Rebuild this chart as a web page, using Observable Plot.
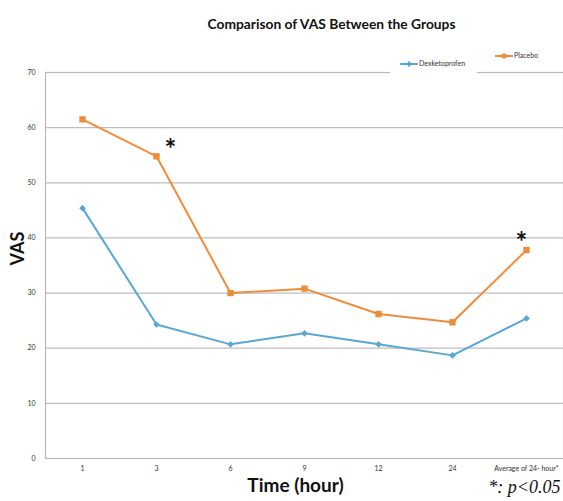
<!DOCTYPE html>
<html><head><meta charset="utf-8">
<script src="https://cdn.jsdelivr.net/npm/d3@7"></script>
<script src="https://cdn.jsdelivr.net/npm/@observablehq/plot@0.6"></script>
<style>
body{margin:0;background:#fff;}
#chart{position:relative;width:563px;height:501px;}
#chart svg{display:block;}
</style></head><body><div id="chart"></div>
<script>
const times = ["1", "3", "6", "9", "12", "24", "Average of 24- hour*"];
const dexketoprofen = [45.4, 24.3, 20.7, 22.7, 20.7, 18.7, 25.4];
const placebo = [61.5, 54.8, 30.0, 30.8, 26.2, 24.7, 37.8];
const seriesNames = ["Dexketoprofen", "Placebo"];
const seriesColors = ["#5aa7d6", "#ef8c3c"];
const yTicks = [0, 10, 20, 30, 40, 50, 60, 70];
const significant = ["3", "Average of 24- hour*"];
const titleText = "Comparison of VAS Between the Groups";
const xLabel = "Time (hour)";
const yLabel = "VAS";
const noteText = "*: p<0.05";

const rows = [];
times.forEach((t, i) => {
  rows.push({time: t, value: dexketoprofen[i], series: seriesNames[0]});
  rows.push({time: t, value: placebo[i], series: seriesNames[1]});
});
const placeboRows = rows.filter(d => d.series === "Placebo");
const dexRows = rows.filter(d => d.series === "Dexketoprofen");
const starRows = placeboRows.filter(d => significant.includes(d.time));

const sans = "Lato, 'Open Sans', sans-serif";

const chart = Plot.plot({
  width: 563,
  height: 501,
  marginTop: 72,
  marginBottom: 43,
  marginLeft: 45,
  marginRight: 0,
  style: {fontFamily: sans, fontSize: "7px", color: "#333", background: "#fff"},
  x: {type: "point", domain: times, padding: 0.5, label: null, tickSize: 0, tickPadding: 8},
  y: {domain: [0, 70], ticks: yTicks, label: null, tickSize: 0, tickPadding: 10},
  color: {domain: seriesNames, range: seriesColors},
  marks: [
    Plot.gridY(yTicks.filter(v => v > 0 && v < 70), {stroke: "#bdbdbd", strokeOpacity: 1, strokeWidth: 1.2}),
    Plot.frame({stroke: "#b8b8b8", strokeWidth: 1.2}),
    Plot.axisX({tickSize: 0, tickPadding: 8, fontSize: 7}),
    Plot.axisY({ticks: yTicks, tickSize: 0, tickPadding: 10, fontSize: 7}),
    Plot.line(dexRows, {x: "time", y: "value", stroke: "series", strokeWidth: 2}),
    Plot.line(placeboRows, {x: "time", y: "value", stroke: "series", strokeWidth: 2}),
    Plot.dot(dexRows, {x: "time", y: "value", fill: "series", symbol: "diamond2", r: 3}),
    Plot.dot(placeboRows, {x: "time", y: "value", fill: "series", symbol: "square", r: 3.6}),
    Plot.text(starRows.slice(0, 1), {x: "time", y: "value", text: () => "*", fontSize: 28, fontWeight: "bold", fill: "#111", dx: 14, dy: -6}),
    Plot.text(starRows.slice(1), {x: "time", y: "value", text: () => "*", fontSize: 28, fontWeight: "bold", fill: "#111", dx: -5, dy: -7}),
    Plot.text([titleText], {frameAnchor: "top", dx: 27, dy: -53, fontSize: 13.8, fontWeight: "bold", fill: "#111"}),
    Plot.text([yLabel], {frameAnchor: "left", dx: -27, rotate: -90, fontSize: 18, fontWeight: "bold", fill: "#111"}),
    Plot.text([xLabel], {frameAnchor: "bottom", dx: -9, dy: 33, fontSize: 19, fontWeight: "bold", fill: "#111"}),
    Plot.text([noteText], {frameAnchor: "bottom-right", dx: -3, dy: 34, textAnchor: "end", fontSize: 18, fontStyle: "italic", fontFamily: "'Liberation Serif', 'DejaVu Serif', serif", fill: "#111"})
  ]
});
document.getElementById("chart").appendChild(chart);

// Legend (drawn with d3 on top of the chart's svg)
const svg = d3.select(chart);
const leg = svg.append("g").attr("font-family", sans).attr("font-size", 7).attr("fill", "#333").attr("text-anchor", "start");
leg.append("rect").attr("x", 390).attr("y", 54).attr("width", 87).attr("height", 20).attr("fill", "#fff");
const entries = [
  {name: seriesNames[0], color: seriesColors[0], x: 400, y: 64, shape: d3.symbolDiamond2},
  {name: seriesNames[1], color: seriesColors[1], x: 495, y: 56, shape: d3.symbolSquare}
];
entries.forEach(e => {
  leg.append("line").attr("x1", e.x).attr("x2", e.x + 18).attr("y1", e.y).attr("y2", e.y).attr("stroke", e.color).attr("stroke-width", 2);
  leg.append("path").attr("d", d3.symbol(e.shape, 22)()).attr("transform", `translate(${e.x + 9},${e.y})`).attr("fill", e.color);
  leg.append("text").attr("x", e.x + 19).attr("y", e.y).attr("dy", "0.35em").text(e.name);
});
</script></body></html>
